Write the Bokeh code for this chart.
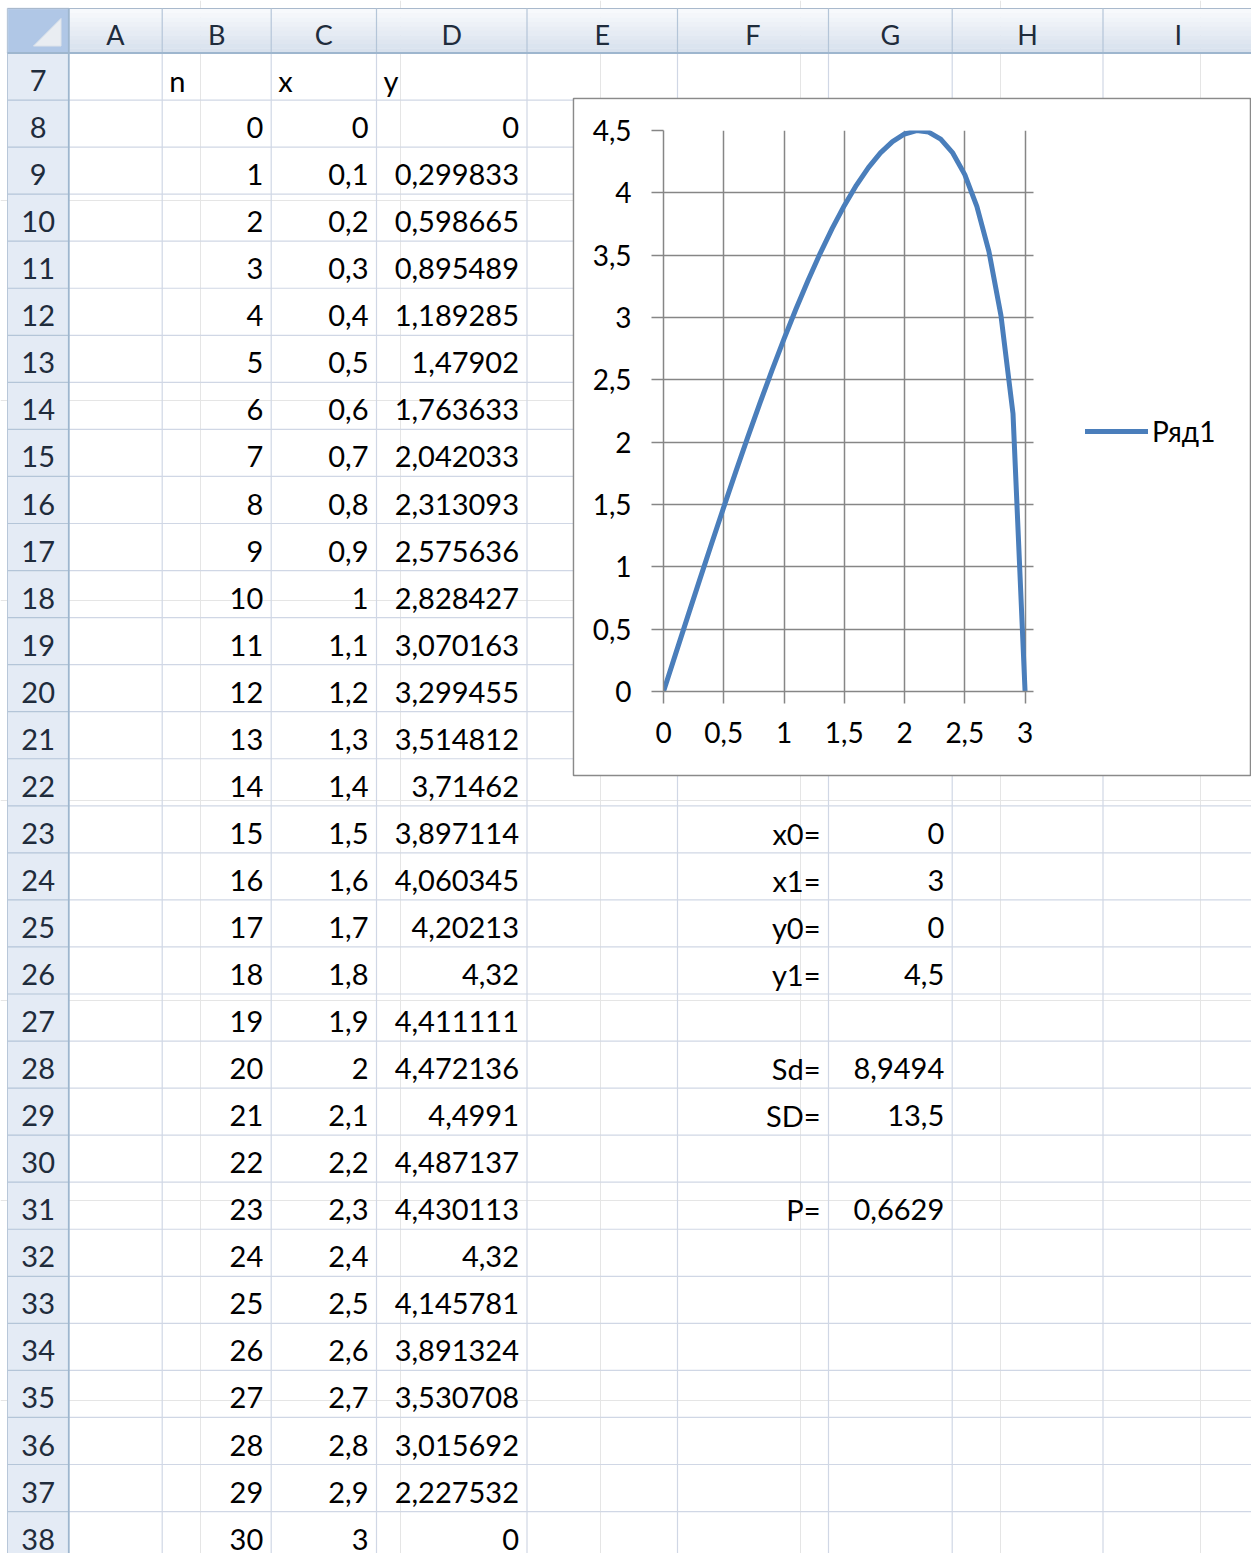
from bokeh.plotting import figure
from bokeh.models import (Range1d, ColumnDataSource, FixedTicker, Legend, LegendItem,
                          CustomJSTickFormatter)
from bokeh.layouts import column
from bokeh.embed import file_html
from bokeh.resources import INLINE
from bokeh.core.properties import value

# ---------------- data ----------------
n_values = [0, 1, 2, 3, 4, 5, 6, 7, 8, 9, 10, 11, 12, 13, 14, 15, 16, 17, 18, 19, 20,
            21, 22, 23, 24, 25, 26, 27, 28, 29, 30]
x_values = [0, 0.1, 0.2, 0.3, 0.4, 0.5, 0.6, 0.7, 0.8, 0.9, 1, 1.1, 1.2, 1.3, 1.4, 1.5,
            1.6, 1.7, 1.8, 1.9, 2, 2.1, 2.2, 2.3, 2.4, 2.5, 2.6, 2.7, 2.8, 2.9, 3]
y_values = [0, 0.299833, 0.598665, 0.895489, 1.189285, 1.47902, 1.763633, 2.042033,
            2.313093, 2.575636, 2.828427, 3.070163, 3.299455, 3.514812, 3.71462, 3.897114,
            4.060345, 4.20213, 4.32, 4.411111, 4.472136, 4.4991, 4.487137, 4.430113, 4.32,
            4.145781, 3.891324, 3.530708, 3.015692, 2.227532, 0]
column_letters = ["A", "B", "C", "D", "E", "F", "G", "H", "I"]
row_numbers = [7, 8, 9, 10, 11, 12, 13, 14, 15, 16, 17, 18, 19, 20, 21, 22, 23, 24, 25,
               26, 27, 28, 29, 30, 31, 32, 33, 34, 35, 36, 37, 38]
table_headers = ["n", "x", "y"]
param_names = ["x0=", "x1=", "y0=", "y1=", "Sd=", "SD=", "P="]
param_values = [0, 3, 0, 4.5, 8.9494, 13.5, 0.6629]
param_rows = [23, 24, 25, 26, 28, 29, 31]
x_ticks = [0, 0.5, 1, 1.5, 2, 2.5, 3]
y_ticks = [0, 0.5, 1, 1.5, 2, 2.5, 3, 3.5, 4, 4.5]
series_name = "Ряд1"


def fmt(v):
    f = float(v)
    if f.is_integer():
        return str(int(f))
    return repr(f).replace(".", ",")


# ---------------- geometry (reference pixel space) ----------------
REF_W, REF_H = 1251, 1553
FIG_W, FIG_H = 1251, 1553
SX, SY = FIG_W / REF_W, FIG_H / REF_H
COL_EDGES = [7.0, 68.3, 161.7, 270.7, 376.0, 526.5, 677.0, 828.0, 951.7, 1102.5, 1253.0]
HDR_TOP, HDR_BOT = 8.0, 52.5
ROW_H = 47.05
FONT_NAME = "Lato"
FONT = value(FONT_NAME)


def row_top(r):
    return HDR_BOT + (r - row_numbers[0]) * ROW_H


def row_base(r):
    return row_top(r) + ROW_H - 19.5


def col_left(letter):
    return COL_EDGES[column_letters.index(letter) + 1]


def col_right(letter):
    return COL_EDGES[column_letters.index(letter) + 2]


sheet = figure(width=FIG_W, height=FIG_H, x_range=Range1d(0, REF_W), y_range=Range1d(REF_H, 0),
               toolbar_location=None, output_backend="svg", x_axis_location=None,
               y_axis_location=None, min_border=0, outline_line_color=None,
               background_fill_color="white", border_fill_color="white",
               frame_align=False)

# column header band (gradient imitation)
n_strips = 10
c0, c1 = (247, 249, 252), (216, 225, 237)
strip_h = (HDR_BOT - HDR_TOP) / n_strips
for i in range(n_strips):
    t = i / (n_strips - 1)
    col = "#%02x%02x%02x" % tuple(int(round(a + (b - a) * t)) for a, b in zip(c0, c1))
    sheet.quad(left=COL_EDGES[1], right=REF_W + 5, top=HDR_TOP + i * strip_h,
               bottom=HDR_TOP + (i + 1) * strip_h + 0.3, fill_color=col, line_color=None)

# row header band
sheet.quad(left=COL_EDGES[0], right=COL_EDGES[1], top=HDR_BOT, bottom=REF_H + 5,
           fill_color="#e4ebf5", line_color=None)
# corner cell
sheet.quad(left=COL_EDGES[0], right=COL_EDGES[1], top=HDR_TOP, bottom=HDR_BOT,
           fill_color="#b0c7e6", line_color="#c9d8ec", line_width=1.5)
sheet.patch(x=[60.5, 60.5, 33.0], y=[18.0, 45.5, 45.5], fill_color="#e9edf2",
            line_color="#dde3ea")

# top border of headers
sheet.segment(x0=[COL_EDGES[0]], y0=[HDR_TOP], x1=[REF_W + 5], y1=[HDR_TOP],
              line_color="#a9b9cc", line_width=1)
sheet.segment(x0=[COL_EDGES[0]], y0=[HDR_TOP], x1=[COL_EDGES[0]], y1=[REF_H + 5],
              line_color="#b8c7d9", line_width=1)

# cell grid
h_rows = row_numbers
sheet.segment(x0=[COL_EDGES[1]] * len(h_rows), x1=[REF_W + 5] * len(h_rows),
              y0=[row_top(r) + ROW_H for r in h_rows], y1=[row_top(r) + ROW_H for r in h_rows],
              line_color="#d0d7e5", line_width=1.2)
v_edges = COL_EDGES[2:]
sheet.segment(x0=v_edges, x1=v_edges, y0=[HDR_BOT] * len(v_edges), y1=[REF_H + 5] * len(v_edges),
              line_color="#d0d7e5", line_width=1.2)

# header separators
sheet.segment(x0=v_edges, x1=v_edges, y0=[HDR_TOP] * len(v_edges), y1=[HDR_BOT] * len(v_edges),
              line_color="#b4c5d8", line_width=1.2)
sheet.segment(x0=[COL_EDGES[0]] * len(h_rows), x1=[COL_EDGES[1]] * len(h_rows),
              y0=[row_top(r) + ROW_H for r in h_rows], y1=[row_top(r) + ROW_H for r in h_rows],
              line_color="#b4c5d8", line_width=1.2)
sheet.segment(x0=[COL_EDGES[0]], x1=[REF_W + 5], y0=[HDR_BOT], y1=[HDR_BOT],
              line_color="#9eb6ce", line_width=1.8)
sheet.segment(x0=[COL_EDGES[1]], x1=[COL_EDGES[1]], y0=[HDR_TOP], y1=[REF_H + 5],
              line_color="#9eb6ce", line_width=1.8)

# header texts
hdr_src = ColumnDataSource(dict(
    x=[(col_left(c) + col_right(c)) / 2 for c in column_letters],
    y=[34.0] * len(column_letters), t=column_letters))
sheet.text(x="x", y="y", text="t", source=hdr_src, text_align="center",
           text_baseline="alphabetic", text_font=FONT, text_font_size="27px",
           text_color="#1f2c3c")
rown_src = ColumnDataSource(dict(
    x=[(COL_EDGES[0] + COL_EDGES[1]) / 2] * len(row_numbers),
    y=[row_base(r) for r in row_numbers], t=[str(r) for r in row_numbers]))
sheet.text(x="x", y="y", text="t", source=rown_src, text_align="center",
           text_baseline="alphabetic", text_font=FONT, text_font_size="29px",
           text_color="#1f2c3c")

# table header row (left aligned)
th_src = ColumnDataSource(dict(
    x=[col_left(c) + 7 for c in ["B", "C", "D"]],
    y=[row_base(row_numbers[0])] * 3, t=table_headers))
sheet.text(x="x", y="y", text="t", source=th_src, text_align="left",
           text_baseline="alphabetic", text_font=FONT, text_font_size="29px", text_color="black")

# table values (right aligned)
data_rows = [row_numbers[1] + i for i in range(len(n_values))]
cell_x, cell_y, cell_t = [], [], []
for letter, vals in (("B", n_values), ("C", x_values), ("D", y_values)):
    for r, v in zip(data_rows, vals):
        cell_x.append(col_right(letter) - 8)
        cell_y.append(row_base(r))
        cell_t.append(fmt(v))
for r, name, v in zip(param_rows, param_names, param_values):
    cell_x.append(col_right("F") - 8)
    cell_y.append(row_base(r))
    cell_t.append(name)
    cell_x.append(col_right("G") - 8)
    cell_y.append(row_base(r))
    cell_t.append(fmt(v))
cell_src = ColumnDataSource(dict(x=cell_x, y=cell_y, t=cell_t))
sheet.text(x="x", y="y", text="t", source=cell_src, text_align="right",
           text_baseline="alphabetic", text_font=FONT, text_font_size="29px", text_color="black")

# chart box (embedded chart object frame)
BOX_L, BOX_R, BOX_T, BOX_B = 573.0, 1250.0, 98.0, 775.0
sheet.quad(left=BOX_L, right=BOX_R, top=BOX_T, bottom=BOX_B, fill_color="white",
           line_color="#8a8a8a", line_width=1.5)

# ---------------- chart ----------------
CH_L, CH_T = BOX_L + 1, BOX_T + 1
CH_R, CH_B = BOX_R - 1, BOX_B - 1
FR_L, FR_R, FR_T, FR_B = 663.0, 1033.0, 130.0, 691.0
X_PLOT_END = 3.07                      # x value at the right edge of the plot area
ch_w = int(round((CH_R - CH_L) * SX))
ch_h = int(round((CH_B - CH_T) * SY))
GRID = "#868686"

# the frame spans to the chart's right edge so that the legend (right of the plot area)
# lies inside it; grid and axis lines are bounded to the plot area.
x_end = X_PLOT_END * (CH_R - FR_L) / (FR_R - FR_L)
chart = figure(width=ch_w, height=ch_h, x_range=Range1d(0, x_end), y_range=Range1d(0, 4.5),
               toolbar_location=None, output_backend="svg",
               min_border_left=int(round((FR_L - CH_L) * SX)),
               min_border_right=0,
               min_border_top=int(round((FR_T - CH_T) * SY)),
               min_border_bottom=int(round((CH_B - FR_B) * SY)),
               outline_line_color=None, background_fill_color="white",
               border_fill_color="white", frame_align=False,
               styles={"position": "absolute", "left": "%dpx" % round(CH_L * SX),
                       "top": "%dpx" % round(CH_T * SY)})

tick_fmt = CustomJSTickFormatter(code="return tick.toString().replace('.', ',');")
for ax, ticks in ((chart.xaxis, x_ticks), (chart.yaxis, y_ticks)):
    ax.ticker = FixedTicker(ticks=ticks)
    ax.formatter = tick_fmt
    ax.major_tick_out = 12
    ax.major_tick_in = 0
    ax.minor_tick_line_color = None
    ax.major_tick_line_color = GRID
    ax.major_tick_line_width = 1.5
    ax.axis_line_color = GRID
    ax.axis_line_width = 1.5
    ax.major_label_text_font = FONT_NAME
    ax.major_label_text_font_size = "28px"
    ax.major_label_text_color = "black"
chart.xaxis.bounds = (0, X_PLOT_END)
chart.xaxis.major_label_standoff = 18
chart.yaxis.major_label_standoff = 20
chart.xgrid.ticker = FixedTicker(ticks=x_ticks)
chart.ygrid.ticker = FixedTicker(ticks=y_ticks)
chart.grid.grid_line_color = GRID
chart.grid.grid_line_width = 1.5
for g in chart.ygrid:
    if "cross_bounds" in g.properties():
        g.cross_bounds = (0, X_PLOT_END)

src = ColumnDataSource(dict(x=x_values, y=y_values))
r = chart.line(x="x", y="y", source=src, line_color="#4a7ebb", line_width=5,
               line_join="round", line_cap="round")

legend = Legend(items=[LegendItem(label=series_name, renderers=[r])],
                location=(int(round((1085.0 - FR_L) * SX)), int(round((FR_B - 435.0) * SY - 13))),
                border_line_color=None, background_fill_alpha=0, padding=0, margin=0,
                glyph_width=int(round(63 * SX)), glyph_height=26, label_height=26,
                label_standoff=4, spacing=0, label_text_font=FONT_NAME,
                label_text_font_size="28px", label_text_color="black")
chart.add_layout(legend)

page = column(sheet, chart)
open("out.html", "w").write(file_html(page, INLINE))
